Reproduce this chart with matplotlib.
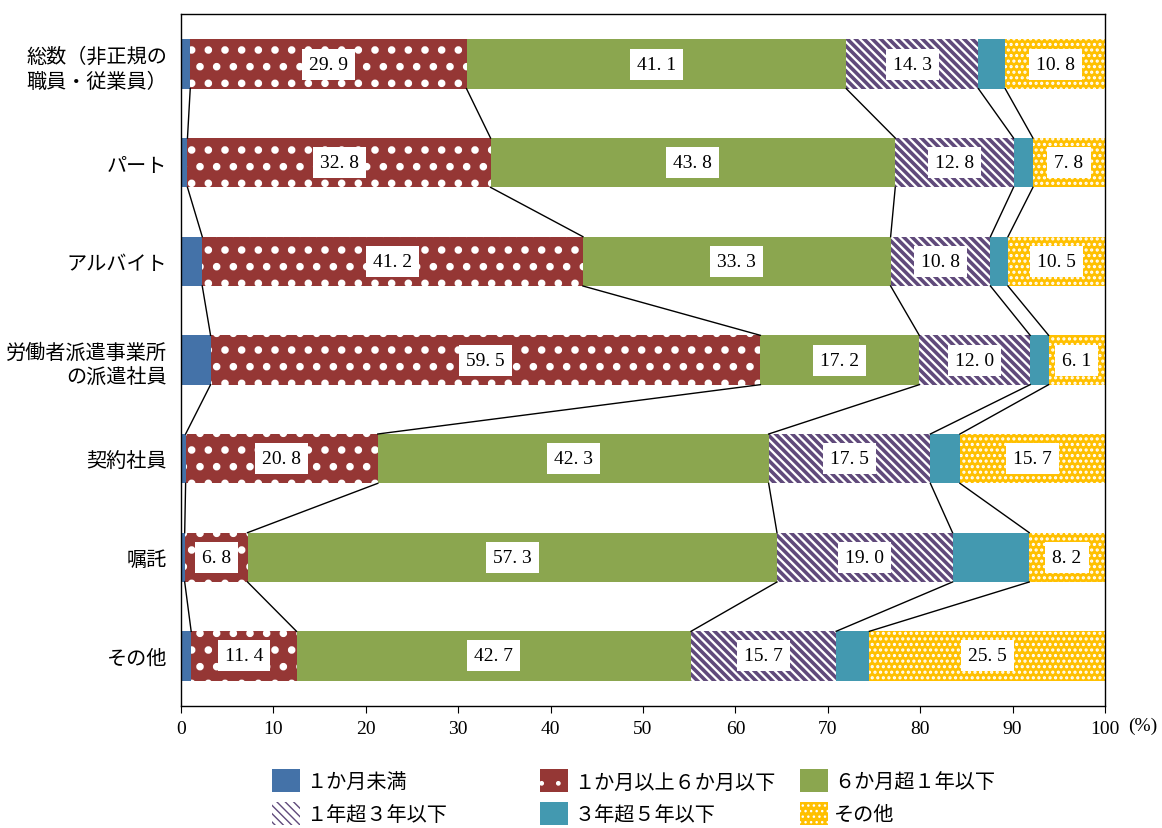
import matplotlib
matplotlib.use('Agg')
import matplotlib.pyplot as plt
import numpy as np

plt.rcParams['font.family'] = ['Noto Sans CJK JP', 'DejaVu Sans']

categories = ['総数（非正規の\n職員・従業員）', 'パート', 'アルバイト',
              '労働者派遣事業所\nの派遣社員', '契約社員', '嘱託', 'その他']
series_names = ['１か月未満', '１か月以上６か月以下', '６か月超１年以下',
                '１年超３年以下', '３年超５年以下', 'その他']
lt_1m = [1.0, 0.7, 2.3, 3.2, 0.5, 0.4, 1.1]
m1_to_m6 = [29.9, 32.8, 41.2, 59.5, 20.8, 6.8, 11.4]
m6_to_y1 = [41.1, 43.8, 33.3, 17.2, 42.3, 57.3, 42.7]
y1_to_y3 = [14.3, 12.8, 10.8, 12.0, 17.5, 19.0, 15.7]
y3_to_y5 = [2.9, 2.1, 1.9, 2.0, 3.2, 8.3, 3.6]
others = [10.8, 7.8, 10.5, 6.1, 15.7, 8.2, 25.5]
series = [lt_1m, m1_to_m6, m6_to_y1, y1_to_y3, y3_to_y5, others]
labeled = [False, True, True, True, False, True]

styles = [
    dict(color='#4472A8', hatch=None, hcolor=None, hlw=1.0),
    dict(color='#953735', hatch='.', hcolor='white', hlw=3.0),
    dict(color='#8BA64F', hatch=None, hcolor=None, hlw=1.0),
    dict(color='white', hatch='\\\\\\\\', hcolor='#604A7B', hlw=2.6),
    dict(color='#4399B0', hatch=None, hcolor=None, hlw=1.0),
    dict(color='#FFC000', hatch='...', hcolor='white', hlw=1.5),
]

serif = ['Liberation Serif', 'DejaVu Serif']

fig = plt.figure(figsize=(11.62, 8.29), dpi=100)
ax = fig.add_axes([181/1162, 1-707/829, 924/1162, 692/829])

y = np.arange(len(categories))
h = 0.5
left = np.zeros(len(categories))
cums = [left.copy()]
handles = []
for vals, st, name, lab in zip(series, styles, series_names, labeled):
    vals = np.array(vals)
    kw = dict(color=st['color'], height=h, left=left, label=name)
    if st['hatch']:
        kw.update(hatch=st['hatch'], edgecolor=st['hcolor'], linewidth=0)
    else:
        kw.update(linewidth=0)
    bars = ax.barh(y, vals, **kw)
    for p in bars.patches:
        try:
            p.set_hatch_linewidth(st['hlw'])
        except Exception:
            pass
    handles.append(bars)
    if lab:
        for yi, l, v in zip(y, left, vals):
            ax.text(l + v/2, yi, f'{v:.1f}'.replace('.', '. '), ha='center', va='center',
                    fontsize=14, family=serif,
                    bbox=dict(facecolor='white', edgecolor='none', pad=5))
    left = left + vals
    cums.append(left.copy())

# connector lines
for i in range(len(categories)-1):
    for k in range(1, len(series)):
        ax.plot([cums[k][i], cums[k][i+1]], [y[i] + h/2, y[i+1] - h/2],
                color='black', lw=1.0, zorder=1)

ax.set_xlim(0, 100)
ax.set_ylim(len(categories) - 0.493, -0.507)
ax.set_xticks(np.arange(0, 101, 10))
ax.set_xticklabels([str(t) for t in range(0, 101, 10)], family=serif, fontsize=14)
ax.set_yticks(y)
ax.set_yticklabels(categories, fontsize=14.5, linespacing=1.25)
ax.tick_params(axis='y', length=0, pad=10)
ax.tick_params(axis='x', direction='out', length=5, pad=5)
for s in ax.spines.values():
    s.set_linewidth(1.0)
fig.text(1157/1162, 1-726/829, '(%)', ha='right', va='center', fontsize=14, family=serif)

# legend: three columns placed like the reference (row-major order)
col_x = [272, 540, 800]
for c, x0 in enumerate(col_x):
    idx = [c, c + 3]
    lg = fig.legend(handles=[handles[i] for i in idx],
                    labels=[series_names[i] for i in idx],
                    loc='center left', bbox_to_anchor=(x0/1162, 1-798/829),
                    frameon=False, fontsize=14.5, borderpad=0, borderaxespad=0,
                    handlelength=1.4, handleheight=1.4, handletextpad=0.3,
                    labelspacing=0.45)

fig.savefig('out.png', dpi=100)
